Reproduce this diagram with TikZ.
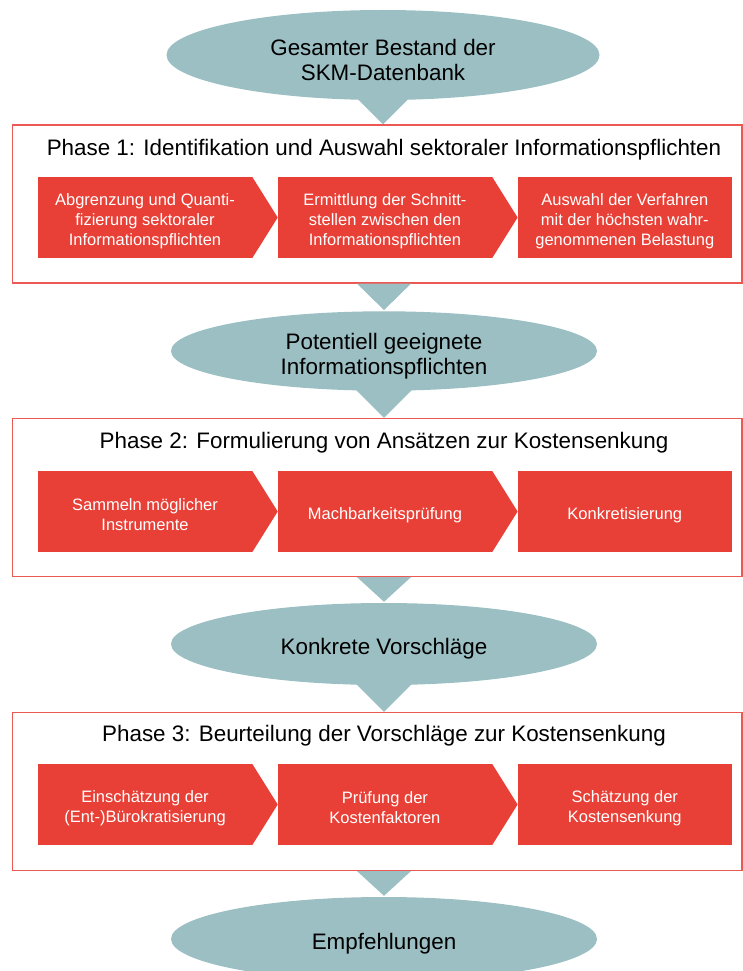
\documentclass[tikz,border=0pt]{standalone}
\usepackage{fontspec}
\setmainfont{Liberation Sans}
\usetikzlibrary{shapes.geometric, positioning, calc, backgrounds}
\definecolor{ovalgrey}{RGB}{155,191,195}
\definecolor{stepred}{RGB}{232,64,54}
\definecolor{framered}{RGB}{236,88,82}
\newcommand{\ovallift}{\rule{0pt}{26.5pt}} % pushes the text of a result down a little
\newcommand{\steplift}{\rule{0pt}{19pt}} % same for the red steps
\tikzset{x=1pt, y=-1pt, % pixel units, y runs downwards
oval/.style={ellipse, fill=ovalgrey, minimum width=426pt, minimum height=82pt, inner sep=0pt, align=center, font=\fontsize{22.4}{25}\selectfont}, % the teal results
phase/.style={draw=framered, line width=1.2pt, fill=white, minimum width=729.5pt, minimum height=158pt, inner sep=0pt}, % frame of a phase
phasetitle/.style={inner sep=0pt, font=\fontsize{22.4}{25}\selectfont},
stepbox/.style={fill=stepred, text=white, minimum width=214pt, minimum height=81pt, inner sep=0pt, align=center, font=\fontsize{16.5}{20}\selectfont}, % red steps
pointer/.style={fill=ovalgrey}, % teal arrow heads
}

\begin{document}
\begin{tikzpicture}
  \useasboundingbox (0,0) rectangle (743,971);

  \node[oval, minimum width=433pt, minimum height=90pt] (e1) at (383,55) {\ovallift Gesamter Bestand der\\SKM-Datenbank};

  \node[phase] (p1) at (377.25,204) {};
  \node[phasetitle] (t1) at (384,150) {Phase 1: Identifikation und Auswahl sektoraler Informationspflichten};
  \node[stepbox] (s11) at (145,217.5) {\steplift Abgrenzung und Quanti-\\fizierung sektoraler\\Informationspflichten};
  \node[stepbox, right=25.5pt of s11] (s12) {\steplift Ermittlung der Schnitt-\\stellen zwischen den\\Informationspflichten};
  \node[stepbox, right=25.5pt of s12] (s13) {\steplift Auswahl der Verfahren\\mit der höchsten wahr-\\genommenen Belastung};

  \node[oval, minimum height=78pt] (e2) at (384,351) {\ovallift Potentiell geeignete\\Informationspflichten};

  \node[phase] (p2) at (377.25,497.5) {};
  \node[phasetitle] (t2) at (384,443) {Phase 2: Formulierung von Ansätzen zur Kostensenkung};
  \node[stepbox] (s21) at (145,511.5) {\steplift Sammeln möglicher\\Instrumente};
  \node[stepbox, right=25.5pt of s21] (s22) {\steplift Machbarkeitsprüfung};
  \node[stepbox, right=25.5pt of s22] (s23) {\steplift Konkretisierung};

  \node[oval] (e3) at (384,644) {\ovallift Konkrete Vorschläge};

  \node[phase] (p3) at (377.25,791.5) {};
  \node[phasetitle] (t3) at (384,736) {Phase 3: Beurteilung der Vorschläge zur Kostensenkung};
  \node[stepbox] (s31) at (145,804.5) {\steplift Einschätzung der\\(Ent-)Bürokratisierung};
  \node[stepbox, right=25.5pt of s31] (s32) {\steplift Prüfung der\\Kostenfaktoren};
  \node[stepbox, right=25.5pt of s32] (s33) {\steplift Schätzung der\\Kostensenkung};

  \node[oval, minimum height=84pt] (e4) at (384,939) {\ovallift Empfehlungen};

  % pointed ends of the red steps
  \foreach \s in {s11,s12,s21,s22,s31,s32}
    \fill[stepred] (\s.north east) -- ($(\s.east)+(25.5,0)$) -- (\s.south east) -- cycle;

  % teal arrow heads between results and phases
  \begin{pgfonlayer}{background}
  \foreach \e/\p in {e1/p1, e2/p2, e3/p3}
    \fill[pointer] ($(\e.center |- \p.north)+(-30,-30)$) -- ($(\e.center |- \p.north)+(30,-30)$) -- (\e.center |- \p.north) -- cycle;
  \end{pgfonlayer}
  \foreach \p/\e in {p1/e2, p2/e3, p3/e4}
    \fill[pointer] ($(\e.north |- \p.south)+(-27,0)$) -- ($(\e.north |- \p.south)+(27,0)$) -- ($(\e.north)+(0,-1)$) -- cycle;

\end{tikzpicture}
\end{document}
